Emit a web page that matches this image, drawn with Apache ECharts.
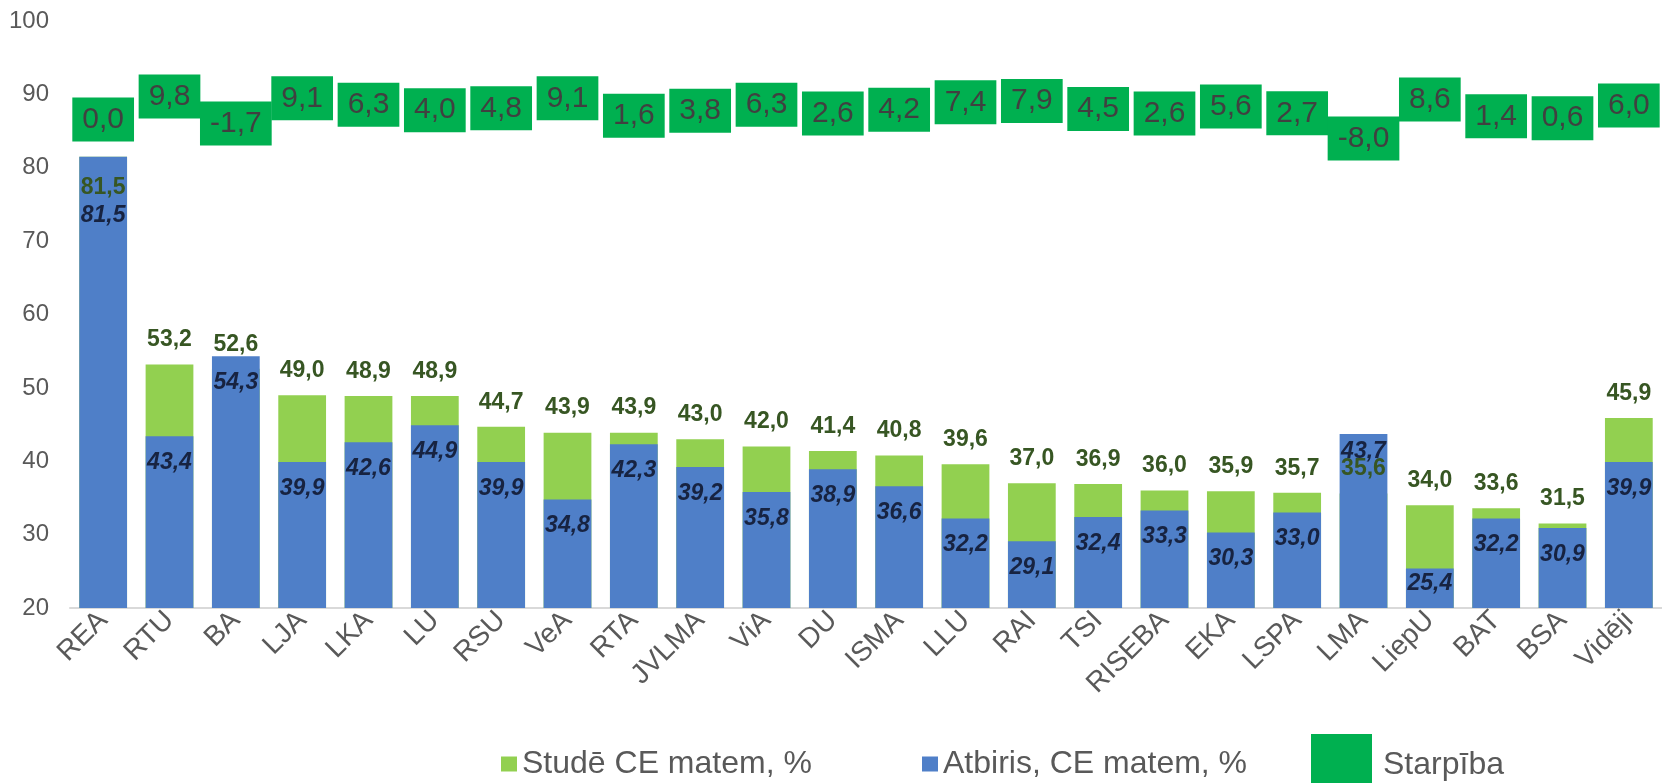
<!DOCTYPE html>
<html>
<head>
<meta charset="utf-8">
<script src="https://cdn.jsdelivr.net/npm/echarts@6/dist/echarts.min.js"></script>
<style>
html,body{margin:0;padding:0;background:#fff;}
#chart{width:1662px;height:783px;}
</style>
</head>
<body>
<div id="chart"></div>
<script>
const categories = ['REA','RTU','BA','LJA','LKA','LU','RSU','VeA','RTA','JVLMA','ViA','DU','ISMA','LLU','RAI','TSI','RISEBA','EKA','LSPA','LMA','LiepU','BAT','BSA','Vidēji'];
const studeValues = [81.5,53.2,52.6,49.0,48.9,48.9,44.7,43.9,43.9,43.0,42.0,41.4,40.8,39.6,37.0,36.9,36.0,35.9,35.7,35.6,34.0,33.6,31.5,45.9];
const atbirisValues = [81.5,43.4,54.3,39.9,42.6,44.9,39.9,34.8,42.3,39.2,35.8,38.9,36.6,32.2,29.1,32.4,33.3,30.3,33.0,43.7,25.4,32.2,30.9,39.9];
const starpibaValues = [0.0,9.8,-1.7,9.1,6.3,4.0,4.8,9.1,1.6,3.8,6.3,2.6,4.2,7.4,7.9,4.5,2.6,5.6,2.7,-8.0,8.6,1.4,0.6,6.0];
const seriesNames = ['Studē CE matem, %', 'Atbiris, CE matem, %', 'Starpība'];
const yMin = 20, yMax = 100, yStep = 10;

const FONT = '"Liberation Sans", Arial, sans-serif';
const fmt = v => Number(v).toFixed(1).replace('.', ',');
const GREEN = '#92D050', BLUE = '#4F7FC8', DARKGREEN = '#00B050';

// label placement tweaks (by category)
const blueDist = {REA: 47, LMA: 6, LiepU: 4};
const greenInside = {REA: 19};

const blueData = atbirisValues.map((v, i) => {
  const c = categories[i];
  return blueDist[c] !== undefined ? {value: v, label: {distance: blueDist[c]}} : v;
});
const greenLabelData = studeValues.map((v, i) => {
  const c = categories[i];
  return greenInside[c] !== undefined ? {value: v, label: {position: 'insideTop', distance: greenInside[c]}} : v;
});

const chart = echarts.init(document.getElementById('chart'), null, {renderer: 'canvas'});
const legendBase = {
  orient: 'horizontal', padding: 0, selectedMode: false,
  textStyle: {fontFamily: FONT, fontSize: 32, color: '#595959'}
};
chart.setOption({
  animation: false,
  backgroundColor: '#ffffff',
  grid: {left: 70, right: -7, top: 21, bottom: 175, containLabel: false},
  legend: [
    Object.assign({}, legendBase, {data: [seriesNames[0]], left: 501, top: 748, itemWidth: 16, itemHeight: 15, icon: 'rect'}),
    Object.assign({}, legendBase, {data: [seriesNames[1]], left: 922, top: 748, itemWidth: 16, itemHeight: 15, icon: 'rect'}),
    Object.assign({}, legendBase, {data: [seriesNames[2]], left: 1311, top: 734, itemWidth: 61, itemHeight: 49, icon: 'rect',
      formatter: '{t|{name}}',
      textStyle: {fontFamily: FONT, fontSize: 32, color: '#595959',
        rich: {t: {fontFamily: FONT, fontSize: 32, color: '#595959', padding: [14, 0, 0, 6]}}}})
  ],
  xAxis: {
    type: 'category', data: categories,
    axisTick: {show: false},
    axisLine: {onZero: false, lineStyle: {color: '#D9D9D9', width: 2}},
    axisLabel: {interval: 0, rotate: 45, margin: 8, fontFamily: FONT, fontSize: 28, color: '#595959'}
  },
  yAxis: [
    {type: 'value', min: yMin, max: yMax, interval: yStep,
      axisLine: {show: false}, axisTick: {show: false}, splitLine: {show: false},
      axisLabel: {margin: 21, fontFamily: FONT, fontSize: 24, color: '#595959'}},
    {type: 'value', min: -208, max: 42, show: false, splitLine: {show: false}}
  ],
  series: [
    {name: seriesNames[0], type: 'bar', data: studeValues, barGap: '-100%', barCategoryGap: '28%', z: 2,
      itemStyle: {color: GREEN}},
    {name: seriesNames[1], type: 'bar', data: blueData, barGap: '-100%', barCategoryGap: '28%', z: 3,
      itemStyle: {color: BLUE},
      label: {show: true, position: 'insideTop', distance: 15, formatter: p => fmt(p.value),
        fontFamily: FONT, fontSize: 23, fontWeight: 'bold', fontStyle: 'italic', color: '#172341'}},
    {name: 'studeLabels', type: 'bar', data: greenLabelData, barGap: '-100%', barCategoryGap: '28%', z: 4,
      itemStyle: {color: 'rgba(0,0,0,0)'}, silent: true,
      label: {show: true, position: 'top', distance: 13, formatter: p => fmt(p.value),
        fontFamily: FONT, fontSize: 23, fontWeight: 'bold', color: '#375623'}},
    {name: seriesNames[2], type: 'scatter', yAxisIndex: 1, data: starpibaValues, z: 5,
      symbol: 'rect', symbolSize: 2, itemStyle: {color: DARKGREEN, opacity: 1},
      label: {show: true, position: 'inside', formatter: p => fmt(p.value),
        fontFamily: FONT, fontSize: 30, color: '#404040', backgroundColor: DARKGREEN, padding: [8, 10, 6, 10]}}
  ]
});
</script>
</body>
</html>
